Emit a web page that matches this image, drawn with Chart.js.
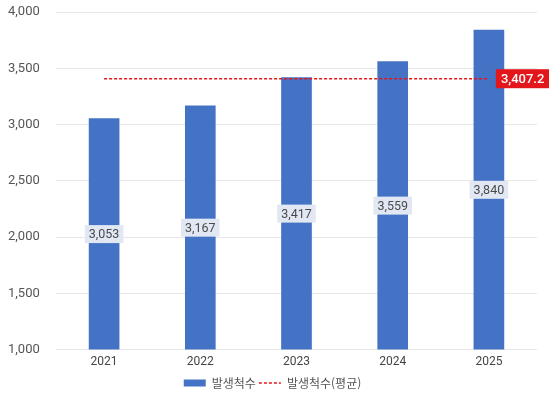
<!DOCTYPE html>
<html lang="ko">
<head>
<meta charset="utf-8">
<title>발생척수</title>
<script src="https://cdn.jsdelivr.net/npm/chart.js@4/dist/chart.umd.min.js"></script>
<style>
    html, body { margin: 0; padding: 0; background: #fff; }
    #wrap { width: 549px; height: 403px; }
</style>
</head>
<body>
<div id="wrap"><canvas id="chart"></canvas></div>
<script>
// Data
const years = ['2021', '2022', '2023', '2024', '2025'];
const counts = [3053, 3167, 3417, 3559, 3840];
const average = [3407.2, 3407.2, 3407.2, 3407.2, 3407.2];
const yTicks = [1000, 1500, 2000, 2500, 3000, 3500, 4000];

const BAR_BLUE = '#4472c4';
const AVG_RED = '#e3161c';

function fmt(v) {
    return v.toLocaleString('en-US', { maximumFractionDigits: 1 });
}

/**
 * Value boxes: grey box in the middle of each bar, red box at the end of the average line
 */
const valueBoxes = {
    id: 'valueBoxes',
    afterDatasetsDraw(chart) {
        const ctx = chart.ctx;
        const yScale = chart.scales.y;
        ctx.save();
        ctx.font = '12.5px Roboto, "Noto Sans", sans-serif';
        ctx.textAlign = 'center';
        ctx.textBaseline = 'middle';

        // bar labels
        chart.getDatasetMeta(0).data.forEach((bar, i) => {
            const mid = (bar.y + yScale.getPixelForValue(yTicks[0])) / 2;
            const text = fmt(counts[i]);
            const w = ctx.measureText(text).width + 8;
            ctx.fillStyle = '#e2e8f3';
            ctx.fillRect(bar.x - w / 2, mid - 9, w, 18);
            ctx.fillStyle = '#4a4a4a';
            ctx.fillText(text, bar.x, mid + 1);
        });

        // average label
        const pts = chart.getDatasetMeta(1).data;
        const last = pts[pts.length - 1];
        const text = fmt(average[average.length - 1]);
        ctx.font = '500 13px Roboto, "Noto Sans", sans-serif';
        const w = ctx.measureText(text).width + 10;
        const x0 = last.x + 7;
        ctx.fillStyle = AVG_RED;
        ctx.fillRect(x0, last.y - 9.5, w, 19);
        ctx.fillStyle = '#fff';
        ctx.textAlign = 'left';
        ctx.fillText(text, x0 + 5, last.y + 1);
        ctx.restore();
    }
};

const ctx = document.getElementById('chart').getContext('2d');

new Chart(ctx, {
    type: 'bar',
    data: {
        labels: years,
        datasets: [{
            label: '발생척수',
            data: counts,
            backgroundColor: BAR_BLUE,
            barThickness: 30,
            order: 1,
            pointStyle: 'rect'
        }, {
            type: 'line',
            label: '발생척수(평균)',
            data: average,
            borderColor: AVG_RED,
            backgroundColor: AVG_RED,
            borderWidth: 1.5,
            borderDash: [3, 2],
            pointRadius: 0,
            pointStyle: 'line',
            fill: false,
            order: 0
        }]
    },
    options: {
        responsive: true,
        maintainAspectRatio: false,
        animation: false,
        layout: {
            padding: { top: 12, right: 12, left: 8, bottom: 4 }
        },
        scales: {
            y: {
                min: 1000,
                max: 4000,
                afterBuildTicks: (axis) => {
                    axis.ticks = yTicks.map(v => ({ value: v }));
                },
                afterFit: (axis) => {
                    axis.width = 48;
                },
                ticks: {
                    padding: 2,
                    crossAlign: 'far',
                    color: '#555',
                    font: { size: 13, family: 'Roboto, "Noto Sans", sans-serif' },
                    callback: (v) => fmt(v)
                },
                grid: {
                    color: '#e8e8e8',
                    drawTicks: false
                },
                border: { display: false }
            },
            x: {
                ticks: {
                    padding: 5,
                    color: '#444',
                    font: { size: 12, family: 'Roboto, "Noto Sans", sans-serif' }
                },
                grid: { display: false, drawTicks: false },
                border: { display: false }
            }
        },
        plugins: {
            legend: {
                position: 'bottom',
                labels: {
                    usePointStyle: true,
                    pointStyleWidth: 22,
                    boxHeight: 7,
                    padding: 3,
                    color: '#555',
                    font: { size: 12, family: '"Noto Sans CJK KR", sans-serif' },
                    sort: (a, b) => a.datasetIndex - b.datasetIndex,
                    generateLabels: (chart) => {
                        const items = Chart.defaults.plugins.legend.labels.generateLabels(chart);
                        items.forEach(item => {
                            const ds = chart.data.datasets[item.datasetIndex];
                            if (ds.type === 'line') {
                                item.lineDash = ds.borderDash;
                                item.lineWidth = ds.borderWidth;
                                item.strokeStyle = ds.borderColor;
                            }
                        });
                        return items;
                    }
                }
            },
            tooltip: { enabled: false }
        }
    },
    plugins: [valueBoxes]
});
</script>
</body>
</html>
